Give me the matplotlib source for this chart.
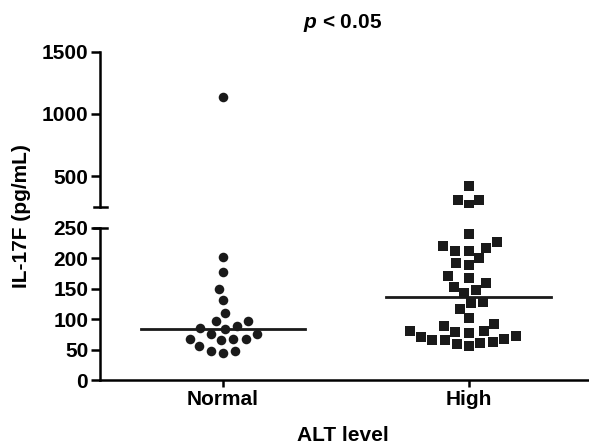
import numpy as np
import matplotlib
matplotlib.use("Agg")
import matplotlib.pyplot as plt
from matplotlib.lines import Line2D

plt.rcParams['font.family'] = ['Liberation Sans', 'DejaVu Sans']
plt.rcParams['font.weight'] = 'bold'
plt.rcParams['mathtext.fontset'] = 'custom'
plt.rcParams['mathtext.it'] = 'Liberation Sans:bold:italic'

# data (pg/mL)
groups = ["Normal", "High"]
normal_vals = [1140, 202, 177, 150, 131, 110, 97, 97, 88, 85, 84, 76, 76,
               68, 68, 68, 65, 56, 48, 48, 45]
high_vals = [420, 313, 313, 267, 240, 227, 220, 216, 212, 212, 200, 192, 189,
             171, 168, 160, 153, 148, 143, 128, 126, 116, 101, 92, 88, 80, 80,
             79, 77, 73, 71, 68, 65, 65, 62, 61, 59, 55]
markers = ["o", "s"]
low_ticks = [0, 50, 100, 150, 200, 250]
high_ticks = [500, 1000, 1500]
low_lim = (0, 250)
high_lim = (250, 1500)

W, H = 589, 444
fs = 15
lw = 1.8
fig = plt.figure(figsize=(W / 100, H / 100), dpi=100)
left = 100 / W
ax_lo = fig.add_axes([left, 1 - 380 / H, 1 - left, (380 - 227.7) / H])
ax_hi = fig.add_axes([left, 1 - 207.4 / H, 1 - left, (207.4 - 51.7) / H])

for ax in (ax_lo, ax_hi):
    ax.set_xlim(0.5, 2.49)
    for s in ["top", "right"]:
        ax.spines[s].set_visible(False)
    ax.spines["left"].set_linewidth(lw)
    ax.spines["bottom"].set_linewidth(lw)
    ax.tick_params(axis="both", width=lw, labelsize=fs, pad=2)
    ax.tick_params(axis="y", length=6.5)
    ax.tick_params(axis="x", length=5)

ax_lo.set_ylim(*low_lim)
ax_lo.set_yticks(low_ticks)
ax_lo.set_xticks([1, 2])
ax_lo.set_xticklabels(groups)

ax_hi.set_ylim(*high_lim)
ax_hi.set_yticks(high_ticks)
ax_hi.spines["bottom"].set_visible(False)
ax_hi.set_xticks([])

fig.canvas.draw()


def swarm(ax, vals, d):
    # simple beeswarm in pixel space, returns x offsets in data units
    ys = ax.transData.transform(np.column_stack([np.ones(len(vals)), vals]))[:, 1]
    offs = np.zeros(len(vals))
    placed = []
    for i in np.argsort(ys):
        y = ys[i]
        cands = [0.0]
        for px, py in placed:
            dy = y - py
            if abs(dy) < d:
                dx = np.sqrt(d * d - dy * dy)
                cands += [px + dx, px - dx]
        cands.sort(key=lambda c: (round(abs(c), 3), c))
        for c in cands:
            if all((c - px) ** 2 + (y - py) ** 2 >= d * d - 1e-6 for px, py in placed):
                offs[i] = c
                break
        placed.append((offs[i], y))
    x0 = ax.transData.transform((1, 0))[0]
    x1 = ax.transData.transform((2, 0))[0]
    return offs / (x1 - x0)


for pos, vals, m in zip([1, 2], [normal_vals, high_vals], markers):
    vals = np.array(vals, dtype=float)
    sz = 6.9 if m == "o" else 6.6
    # points above 250 go on the upper panel
    for ax, sel in [(ax_lo, vals[vals <= low_lim[1]]), (ax_hi, vals[vals > high_lim[0]])]:
        if len(sel) == 0:
            continue
        off = swarm(ax, sel, 12.3)
        ax.scatter(pos + off, sel, marker=m, s=sz ** 2, color="#1a1a1a",
                   linewidths=0, zorder=3)
    med = np.median(vals)
    ax_lo.plot([pos - 0.335, pos + 0.335], [med, med], color="#1a1a1a",
               lw=2.0, zorder=4)

# break caps on the y axis
for yy in (207.4, 227.7):
    fig.add_artist(Line2D([94 / W, 107 / W], [1 - yy / H, 1 - yy / H],
                          color="black", lw=lw))

fig.text(342.5 / W, 1 - 28.3 / H, r"$p$ < 0.05", ha="center", va="baseline",
         fontsize=fs, fontweight="bold")
fig.text(22 / W, 1 - 216 / H, "IL-17F (pg/mL)", rotation=90, ha="center",
         va="center", fontsize=fs, fontweight="bold")
fig.text(343 / W, 1 - 440.7 / H, "ALT level", ha="center", va="baseline",
         fontsize=fs, fontweight="bold")

fig.savefig("out.png", dpi=100)
